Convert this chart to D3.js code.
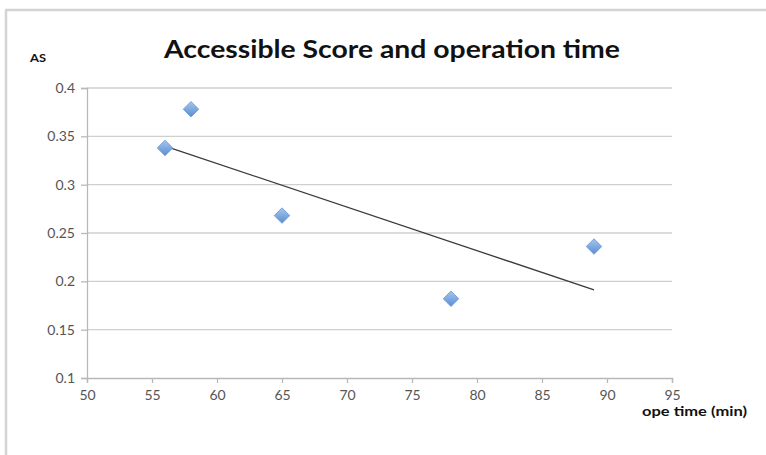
<!DOCTYPE html>
<html><head><meta charset="utf-8">
<script src="https://cdn.jsdelivr.net/npm/d3@7"></script>
<style>html,body{margin:0;padding:0;background:#fff;}svg{display:block;}</style>
</head><body>
<script>
const opeTime = [56, 58, 65, 78, 89];
const asScore = [0.338, 0.378, 0.268, 0.182, 0.236];
const xTicks = [50, 55, 60, 65, 70, 75, 80, 85, 90, 95];
const yTicks = [0.1, 0.15, 0.2, 0.25, 0.3, 0.35, 0.4];
const titleText = "Accessible Score and operation time";
const yTitle = "AS";
const xTitle = "ope time (min)";

const W = 766, H = 455;
const svg = d3.select("body").append("svg").attr("width", W).attr("height", H);

// frame
svg.append("line").attr("x1", 5).attr("x2", W).attr("y1", 10).attr("y2", 10).attr("stroke", "#d4d4d4").attr("stroke-width", 2.5);
svg.append("line").attr("x1", 6).attr("x2", 6).attr("y1", 10).attr("y2", H).attr("stroke", "#d4d4d4").attr("stroke-width", 2.5);

const x = d3.scaleLinear().domain([50, 95]).range([87, 672]);
const y = d3.scaleLinear().domain([0.1, 0.4]).range([378, 88]);

// gridlines
svg.append("g").selectAll("line").data(yTicks.filter(d => d > 0.1)).join("line")
  .attr("x1", x(50)).attr("x2", x(95)).attr("y1", d => y(d)).attr("y2", d => y(d))
  .attr("stroke", "#cfcfcf").attr("stroke-width", 1.3);

const fmtY = d => String(+d.toFixed(2));
const yAxis = svg.append("g").attr("transform", `translate(${x(50)},0)`)
  .call(d3.axisLeft(y).tickValues(yTicks).tickFormat(fmtY).tickSize(6).tickPadding(6));
const xAxis = svg.append("g").attr("transform", `translate(0,${y(0.1)})`)
  .call(d3.axisBottom(x).tickValues(xTicks).tickSize(5).tickPadding(7));
[yAxis, xAxis].forEach(g => {
  g.select(".domain").attr("stroke", "#b8b8b8").attr("stroke-width", 1.3);
  g.selectAll(".tick line").attr("stroke", "#b8b8b8").attr("stroke-width", 1.3);
  g.selectAll(".tick text").attr("fill", "#555").attr("font-family", "Lato, 'Open Sans', sans-serif").attr("font-size", 14);
});

// trendline (linear regression)
const mx = d3.mean(opeTime), my = d3.mean(asScore);
const slope = d3.sum(opeTime, (v, i) => (v - mx) * (asScore[i] - my)) / d3.sum(opeTime, v => (v - mx) ** 2);
const icpt = my - slope * mx;
const x0 = d3.min(opeTime), x1 = d3.max(opeTime);
svg.append("line").attr("x1", x(x0)).attr("y1", y(icpt + slope * x0)).attr("x2", x(x1)).attr("y2", y(icpt + slope * x1))
  .attr("stroke", "#3a3a3a").attr("stroke-width", 1.3);

// markers
const defs = svg.append("defs");
const grad = defs.append("linearGradient").attr("id", "dg").attr("x1", "0").attr("y1", "0").attr("x2", "1").attr("y2", "1");
grad.append("stop").attr("offset", "0%").attr("stop-color", "#a4c6ef");
grad.append("stop").attr("offset", "100%").attr("stop-color", "#5b8dd0");
const sym = d3.symbol().type(d3.symbolSquare).size(120);
svg.append("g").selectAll("path").data(opeTime).join("path")
  .attr("transform", (d, i) => `translate(${x(d)},${y(asScore[i])}) rotate(45)`)
  .attr("d", sym).attr("fill", "url(#dg)").attr("stroke", "#6a98d4").attr("stroke-width", 0.8);

// titles
svg.append("text").attr("x", 392).attr("y", 58).attr("text-anchor", "middle")
  .attr("textLength", 456).attr("lengthAdjust", "spacingAndGlyphs")
  .attr("font-family", "Lato, 'Open Sans', sans-serif").attr("font-weight", "bold").attr("font-size", 25).attr("fill", "#111").text(titleText);
svg.append("text").attr("x", 30).attr("y", 62)
  .attr("textLength", 16).attr("lengthAdjust", "spacingAndGlyphs")
  .attr("font-family", "Lato, 'Open Sans', sans-serif").attr("font-weight", "bold").attr("font-size", 12).attr("fill", "#111").text(yTitle);
svg.append("text").attr("x", 642).attr("y", 416)
  .attr("textLength", 105).attr("lengthAdjust", "spacingAndGlyphs")
  .attr("font-family", "Lato, 'Open Sans', sans-serif").attr("font-weight", "bold").attr("font-size", 13).attr("fill", "#111").text(xTitle);
</script>
</body></html>
